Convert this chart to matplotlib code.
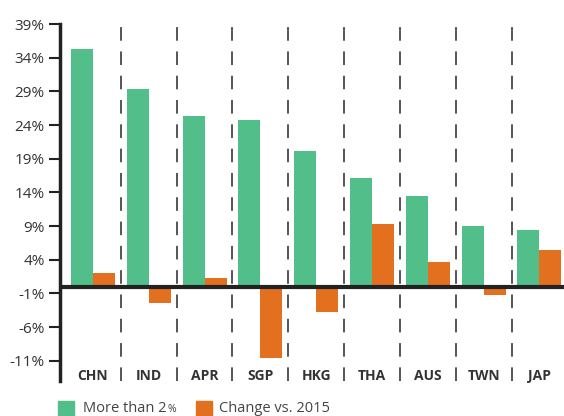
import matplotlib.pyplot as plt
from matplotlib.patches import Rectangle
import numpy as np

plt.rcParams['font.family'] = ['Open Sans', 'DejaVu Sans']

# data
negara = ['CHN', 'IND', 'APR', 'SGP', 'HKG', 'THA', 'AUS', 'TWN', 'JAP']
lebih_2 = [35.3, 29.4, 25.4, 24.7, 20.1, 16.2, 13.4, 9.0, 8.4]
perubahan = [2.1, -2.4, 1.3, -10.6, -3.8, 9.3, 3.7, -1.3, 5.4]
yticks = [39, 34, 29, 24, 19, 14, 9, 4, -1, -6, -11]

hijau = '#52BE89'
oranye = '#E3701E'

fig = plt.figure(figsize=(5.64, 4.16), dpi=100)
ax = fig.add_axes([60 / 564, 1 - 381 / 416, 1 - 60 / 564, (381 - 24) / 416])

x = np.arange(len(negara))
w = 0.395
ax.bar(x - w / 2, lebih_2, width=w, color=hijau, zorder=2)
ax.bar(x + w / 2, perubahan, width=w, color=oranye, zorder=2)

# garis putus-putus antar negara
for i in range(len(negara) - 1):
    ax.axvline(i + 0.5, color='#555555', lw=1.4, ls=(0, (7, 5.5)), zorder=1)

ax.axhline(0, color='#222222', lw=3, zorder=3)

ax.set_xlim(-0.59, 8.44)
ax.set_ylim(-14, 39)
ax.set_yticks(yticks)
ax.set_yticklabels([str(t) + '%' for t in yticks], fontsize=11, color='#333333')
ax.set_xticks([])
ax.tick_params(axis='y', length=8, width=1.5, color='#222222', pad=3)

for s in ['top', 'right', 'bottom']:
    ax.spines[s].set_visible(False)
ax.spines['left'].set_linewidth(2.5)
ax.spines['left'].set_color('#222222')

for i, n in enumerate(negara):
    ax.text(i, -13.2, n, ha='center', va='center', fontsize=10,
            fontweight='bold', color='#333333')

# legenda di bawah
fig.patches.append(Rectangle((58 / 564, 0), 16 / 564, 15 / 416,
                             transform=fig.transFigure, color=hijau))
fig.patches.append(Rectangle((196 / 564, 0), 16 / 564, 15 / 416,
                             transform=fig.transFigure, color=oranye))
t1 = fig.text(83 / 564, 4 / 416, 'More than 2', fontsize=10.5, color='#444444', va='baseline')
fig.text(219 / 564, 4 / 416, 'Change vs. 2015', fontsize=10.5, color='#444444', va='baseline')

# taruh tanda % kecil tepat setelah "2"
r = fig.canvas.get_renderer()
bb = t1.get_window_extent(renderer=r)
fig.text((bb.x1 + 1) / 564, 4 / 416, '%', fontsize=7.5, color='#444444', va='baseline')

plt.savefig('out.png', dpi=100)
